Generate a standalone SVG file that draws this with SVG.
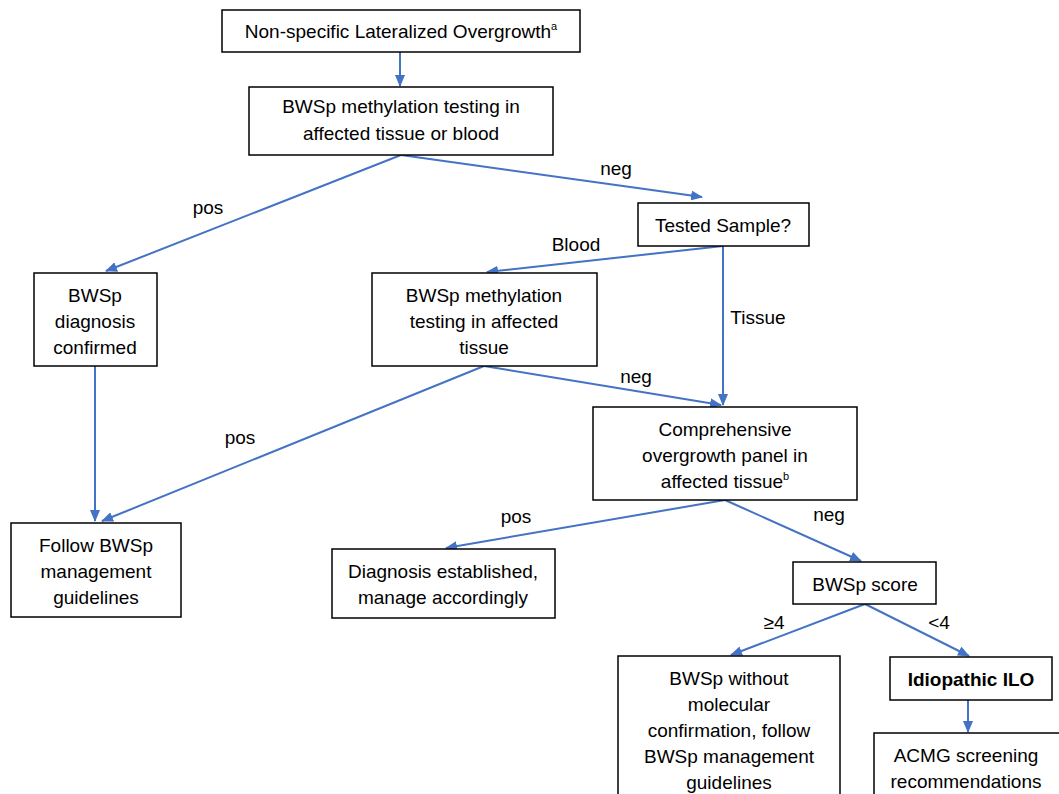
<svg xmlns="http://www.w3.org/2000/svg" width="1059" height="794" viewBox="0 0 1059 794">
<defs>
<marker id="ah" markerWidth="12" markerHeight="10" refX="11" refY="5" orient="auto" markerUnits="userSpaceOnUse">
<path d="M0,0 L12,5 L0,10 Z" fill="#4472C4"/>
</marker>
<style>
.box{fill:#fff;stroke:#000;stroke-width:1.5}
.t{font-family:"Liberation Sans",Arial,sans-serif;font-size:19px;fill:#000;text-anchor:middle}
.lb{font-family:"Liberation Sans",Arial,sans-serif;font-size:19px;fill:#000;text-anchor:middle}
.c{stroke:#4472C4;stroke-width:2;fill:none;marker-end:url(#ah)}
.sup{font-size:11px}
</style>
</defs>
<rect width="1059" height="794" fill="#fff"/>
<g id="connectors">
<line class="c" x1="400" y1="52" x2="400" y2="86"/>
<line class="c" x1="401" y1="155" x2="106" y2="271"/>
<line class="c" x1="401" y1="155" x2="702" y2="197"/>
<line class="c" x1="723" y1="246" x2="487" y2="272"/>
<line class="c" x1="723" y1="246" x2="723" y2="405"/>
<line class="c" x1="95" y1="366" x2="95" y2="521"/>
<line class="c" x1="484" y1="366" x2="102" y2="521"/>
<line class="c" x1="484" y1="366" x2="721" y2="405"/>
<line class="c" x1="725" y1="500" x2="446" y2="548"/>
<line class="c" x1="725" y1="500" x2="861" y2="561"/>
<line class="c" x1="865" y1="604" x2="731" y2="655"/>
<line class="c" x1="865" y1="604" x2="969" y2="656"/>
<line class="c" x1="968" y1="700" x2="968" y2="732"/>
<text class="lb" x="208" y="214">pos</text>
<text class="lb" x="616" y="175">neg</text>
<text class="lb" x="576" y="251">Blood</text>
<text class="lb" x="758" y="324">Tissue</text>
<text class="lb" x="636" y="383">neg</text>
<text class="lb" x="240" y="444">pos</text>
<text class="lb" x="516" y="523">pos</text>
<text class="lb" x="829" y="521">neg</text>
<text class="lb" x="774" y="629">≥4</text>
<text class="lb" x="939" y="629">&lt;4</text>
</g>
<g id="n1"><rect class="box" x="222" y="10" width="358" height="42"/><text class="t" x="401" y="38">Non-specific Lateralized Overgrowth<tspan class="sup" dy="-8">a</tspan></text></g>
<g id="n2"><rect class="box" x="249" y="87" width="304" height="68"/><text class="t" x="401" y="113">BWSp methylation testing in</text><text class="t" x="401" y="140">affected tissue or blood</text></g>
<g id="n3"><rect class="box" x="638" y="203" width="171" height="43"/><text class="t" x="723" y="232">Tested Sample?</text></g>
<g id="n4"><rect class="box" x="34" y="273" width="123" height="93"/><text class="t" x="95" y="302">BWSp</text><text class="t" x="95" y="328">diagnosis</text><text class="t" x="95" y="354">confirmed</text></g>
<g id="n5"><rect class="box" x="372" y="273" width="225" height="93"/><text class="t" x="484" y="302">BWSp methylation</text><text class="t" x="484" y="328">testing in affected</text><text class="t" x="484" y="354">tissue</text></g>
<g id="n6"><rect class="box" x="593" y="407" width="264" height="93"/><text class="t" x="725" y="436">Comprehensive</text><text class="t" x="725" y="462">overgrowth panel in</text><text class="t" x="725" y="488">affected tissue<tspan class="sup" dy="-8">b</tspan></text></g>
<g id="n7"><rect class="box" x="11" y="523" width="170" height="94"/><text class="t" x="96" y="552">Follow BWSp</text><text class="t" x="96" y="578">management</text><text class="t" x="96" y="604">guidelines</text></g>
<g id="n8"><rect class="box" x="332" y="549" width="223" height="69"/><text class="t" x="443" y="578">Diagnosis established,</text><text class="t" x="443" y="604">manage accordingly</text></g>
<g id="n9"><rect class="box" x="793" y="562" width="143" height="42"/><text class="t" x="865" y="591">BWSp score</text></g>
<g id="n10"><rect class="box" x="618" y="656" width="222" height="150"/><text class="t" x="729" y="685">BWSp without</text><text class="t" x="729" y="711">molecular</text><text class="t" x="729" y="737">confirmation, follow</text><text class="t" x="729" y="763">BWSp management</text><text class="t" x="729" y="789">guidelines</text></g>
<g id="n11"><rect class="box" x="890" y="657" width="162" height="43"/><text class="t" x="971" y="686" font-weight="bold">Idiopathic ILO</text></g>
<g id="n12"><rect class="box" x="874" y="733" width="200" height="80"/><text class="t" x="966" y="762">ACMG screening</text><text class="t" x="966" y="788">recommendations</text></g>
</svg>
